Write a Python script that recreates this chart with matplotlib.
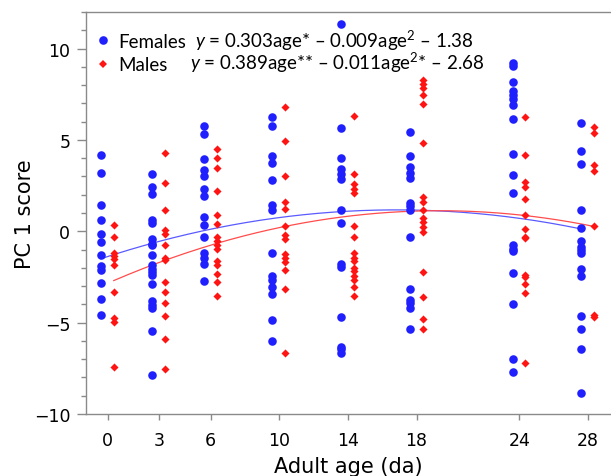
import numpy as np
import matplotlib
matplotlib.use("Agg")
from matplotlib import pyplot as plt
from matplotlib.lines import Line2D

# ages (days of adult life)
ages = [0, 3, 6, 10, 14, 18, 24, 28]

# PC 1 scores, one list per age
female_scores = [
    [4.16, 3.19, 1.46, 0.64, -0.16, -0.58, -1.31, -1.89, -2.13, -2.82, -3.68, -4.56],
    [3.12, 2.43, 2.06, 0.64, 0.48, -0.44, -0.67, -0.77, -1.31, -1.82, -2.04, -2.22,
     -2.41, -2.86, -3.83, -4.05, -4.19, -5.45, -7.84],
    [5.75, 5.31, 3.94, 3.34, 3.03, 2.30, 1.94, 0.79, 0.37, -0.31, -1.17, -1.49, -1.77, -2.74],
    [6.26, 5.75, 4.13, 3.74, 2.79, 1.46, 1.15, -1.17, -2.46, -2.68, -3.04, -3.41, -4.87, -6.02],
    [11.37, 5.66, 4.03, 3.43, 3.16, 2.88, 1.19, 0.46, -1.77, -1.95, -4.70, -6.33, -6.46, -6.64],
    [5.44, 4.11, 3.52, 3.20, 2.94, 1.52, 1.37, 1.19, -0.33, -3.14, -3.78, -3.92, -4.19, -5.36],
    [9.23, 9.05, 8.18, 7.66, 7.44, 7.22, 6.93, 6.17, 4.24, 3.07, 2.10, -0.77, -0.95, -1.09,
     -2.26, -3.96, -6.97, -7.72],
    [5.95, 4.40, 3.67, 1.15, 0.20, -0.55, -0.85, -1.05, -1.17, -2.08, -2.44, -4.65, -5.36,
     -6.46, -8.83],
]
male_scores = [
    [0.33, -0.34, -1.17, -1.35, -1.53, -1.82, -3.32, -4.72, -4.99, -7.42],
    [4.31, 2.65, 1.15, 0.05, -0.13, -0.77, -1.46, -1.59, -2.77, -3.32, -3.92, -4.65, -5.91, -7.55],
    [4.49, 4.03, 3.47, 2.19, 0.88, 0.42, -0.31, -0.55, -0.77, -0.98, -1.62, -1.86, -2.35,
     -2.77, -3.56],
    [6.81, 4.93, 3.01, 1.61, 1.24, 0.30, -0.22, -0.40, -1.22, -1.46, -1.67, -2.10, -3.17, -6.64],
    [6.30, 3.12, 2.56, 2.34, 2.10, 0.28, -0.30, -1.20, -1.45, -1.65, -2.00, -2.20, -2.45,
     -2.65, -3.04, -3.56],
    [8.30, 8.08, 7.86, 7.44, 6.99, 4.84, 1.88, 1.61, 1.15, 0.75, 0.51, 0.24, -0.04, -2.24,
     -3.59, -4.78, -5.36],
    [6.26, 4.20, 2.70, 2.43, 1.74, 0.88, 0.15, -0.31, -0.36, -2.37, -2.50, -2.86, -3.36, -7.19],
    [5.71, 5.38, 3.61, 3.28, 0.30, -4.60, -4.69],
]

# quadratic curves as drawn on the chart: a*age + b*age^2 + c
female_fit = [0.303, -0.009, -1.38]
male_fit = [0.410, -0.0106, -2.84]

# equations as printed
female_eq = r"$\it{y}$ = 0.303age* – 0.009age$^2$ – 1.38"
male_eq = r"$\it{y}$ = 0.389age** – 0.011age$^2$* – 2.68"

blue = "#2020ff"
red = "#ff1414"

plt.rcParams["mathtext.fontset"] = "custom"
plt.rcParams["mathtext.rm"] = "Lato"
plt.rcParams["mathtext.it"] = "Lato:italic"

fig = plt.figure(figsize=(6.11, 4.77), dpi=100)
ax = fig.add_axes([86/611, 62/477, 525/611, 402/477])

f_off, m_off = -0.4, 0.35
for a, fs, ms in zip(ages, female_scores, male_scores):
    ax.scatter(np.full(len(fs), a + f_off), fs, s=38, marker="o", color=blue,
               linewidths=0, zorder=3)
    ax.scatter(np.full(len(ms), a + m_off), ms, s=17, marker="D", color=red,
               linewidths=0, zorder=3)

xf = np.linspace(ages[0] + f_off, ages[-1] + f_off, 200)
ax.plot(xf, female_fit[0]*xf + female_fit[1]*xf**2 + female_fit[2],
        color="#5a5aff", lw=0.9, zorder=2)
xm = np.linspace(ages[0] + m_off, ages[-1] + m_off, 200)
ax.plot(xm, male_fit[0]*xm + male_fit[1]*xm**2 + male_fit[2],
        color="#ff4c4c", lw=0.9, zorder=2)

ax.set_xlim(-1.27, 29.34)
ax.set_ylim(-10, 12)
ax.set_xticks(ages)
ax.set_xticklabels([str(a) for a in ages])
ax.set_yticks([-10, -5, 0, 5, 10])
ax.set_yticks(np.arange(-10, 13, 1), minor=True)

for side in ["left", "bottom", "top"]:
    ax.spines[side].set_color("#8a8a8a")
    ax.spines[side].set_linewidth(1.0)
ax.spines["right"].set_visible(False)

ax.tick_params(axis="x", which="major", direction="out", length=4.5, width=1,
               color="#8a8a8a", labelsize=12.5, pad=8)
ax.tick_params(axis="y", which="major", direction="out", length=6.3, width=1,
               color="#8a8a8a", labelsize=12.5, pad=5)
ax.tick_params(axis="y", which="minor", direction="out", length=3.4, width=1,
               color="#8a8a8a")
ax.tick_params(axis="x", which="minor", bottom=False)

ax.set_xlabel("Adult age (da)", fontsize=15)
ax.set_ylabel("PC 1 score", fontsize=15)
ax.xaxis.set_label_coords(0.5, -0.105)
ax.yaxis.set_label_coords(-0.098, 0.5)

handles = [
    Line2D([], [], marker="o", ls="", color=blue, markersize=6.2, markeredgewidth=0),
    Line2D([], [], marker="D", ls="", color=red, markersize=4.2, markeredgewidth=0),
]
ax.legend(handles, ["Females", "Males"], loc="upper left", bbox_to_anchor=(0.0, 0.967),
          frameon=False, prop={"family": "Lato", "size": 13.5}, handlelength=1.0,
          handletextpad=0.3, labelspacing=0.34, borderpad=0.2, borderaxespad=0.2)

ax.text(0.2076, 0.913, female_eq, transform=ax.transAxes, fontsize=13.5,
        family="Lato", va="baseline")
ax.text(0.198, 0.858, male_eq, transform=ax.transAxes, fontsize=13.5,
        family="Lato", va="baseline")

fig.savefig("out.png", dpi=100)
